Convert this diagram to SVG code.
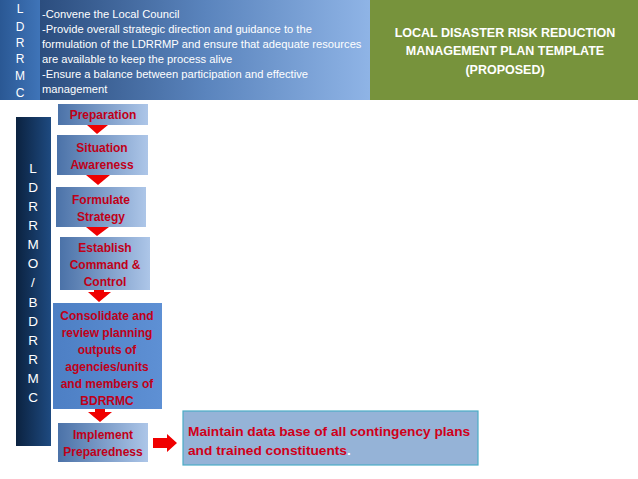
<svg xmlns="http://www.w3.org/2000/svg" width="638" height="479" viewBox="0 0 638 479">
<defs>
<linearGradient id="gHdrL" x1="0" y1="0" x2="1" y2="0"><stop offset="0" stop-color="#2a5894"/><stop offset="1" stop-color="#3f74b8"/></linearGradient>
<linearGradient id="gHdr" x1="0" y1="0" x2="1" y2="0"><stop offset="0" stop-color="#2b4d7e"/><stop offset="0.5" stop-color="#5a84bd"/><stop offset="1" stop-color="#8fb4e6"/></linearGradient>
<linearGradient id="gBar" x1="0" y1="0" x2="1" y2="0"><stop offset="0" stop-color="#0b2240"/><stop offset="1" stop-color="#1e4a80"/></linearGradient>
<linearGradient id="gBox" x1="0" y1="0" x2="1" y2="0"><stop offset="0" stop-color="#4b72a8"/><stop offset="1" stop-color="#adc6e8"/></linearGradient>
<linearGradient id="gCons" x1="0" y1="0" x2="1" y2="0"><stop offset="0" stop-color="#4d7fc4"/><stop offset="1" stop-color="#5e90d4"/></linearGradient>
</defs>
<style>
.hl{font-family:"Liberation Sans",Arial,sans-serif;font-size:12px;fill:#ffffff;text-anchor:middle}
.ht{font-family:"Liberation Sans",Arial,sans-serif;font-size:11.2px;fill:#ffffff}
.title{font-family:"Liberation Sans",Arial,sans-serif;font-size:12.5px;font-weight:bold;fill:#ffffff;text-anchor:middle}
.bl{font-family:"Liberation Sans",Arial,sans-serif;font-size:13.5px;fill:#ffffff;text-anchor:middle}
.bx{fill:url(#gBox)}
.bt{font-family:"Liberation Sans",Arial,sans-serif;font-size:12px;font-weight:bold;fill:#c00018;text-anchor:middle}
.mt{font-family:"Liberation Sans",Arial,sans-serif;font-size:13.7px;font-weight:bold;fill:#d0001a}
.arr{fill:#f00000}
</style>
<rect width="638" height="479" fill="#ffffff"/>
<g id="header-ldrrmc">
<rect x="0" y="0" width="40" height="100" fill="url(#gHdrL)"/>
<text class="hl" x="20" y="13">L</text>
<text class="hl" x="20" y="31">D</text>
<text class="hl" x="20" y="47">R</text>
<text class="hl" x="20" y="63">R</text>
<text class="hl" x="20" y="80">M</text>
<text class="hl" x="20" y="97">C</text>
</g>
<g id="header-text">
<rect x="40" y="0" width="330" height="100" fill="url(#gHdr)"/>
<text class="ht" x="42" y="18">-Convene the Local Council</text>
<text class="ht" x="42" y="33">-Provide overall strategic direction and guidance to the</text>
<text class="ht" x="42" y="48">formulation of the LDRRMP and ensure that adequate resources</text>
<text class="ht" x="42" y="63">are available to keep the process alive</text>
<text class="ht" x="42" y="78">-Ensure a balance between participation and effective</text>
<text class="ht" x="42" y="93">management</text>
</g>
<g id="title">
<rect x="370" y="0" width="268" height="100" fill="#77933c"/>
<text class="title" x="505" y="37">LOCAL DISASTER RISK REDUCTION</text>
<text class="title" x="505" y="55">MANAGEMENT PLAN TEMPLATE</text>
<text class="title" x="505" y="74">(PROPOSED)</text>
</g>
<g id="side-bar">
<rect x="16" y="117" width="35" height="329" fill="url(#gBar)"/>
<text class="bl" x="33" y="173">L</text>
<text class="bl" x="33" y="192">D</text>
<text class="bl" x="33" y="211">R</text>
<text class="bl" x="33" y="230">R</text>
<text class="bl" x="33" y="249">M</text>
<text class="bl" x="33" y="268">O</text>
<text class="bl" x="33" y="287">/</text>
<text class="bl" x="33" y="307">B</text>
<text class="bl" x="33" y="326">D</text>
<text class="bl" x="33" y="345">R</text>
<text class="bl" x="33" y="364">R</text>
<text class="bl" x="33" y="383">M</text>
<text class="bl" x="33" y="402">C</text>
</g>
<g id="preparation">
<rect class="bx" x="58" y="104" width="90" height="21"/>
<text class="bt" x="103" y="119">Preparation</text>
</g>
<g id="situation">
<rect class="bx" x="57" y="135" width="91" height="40"/>
<text class="bt" x="102" y="152">Situation</text>
<text class="bt" x="102" y="169">Awareness</text>
</g>
<g id="formulate">
<rect class="bx" x="56" y="187" width="90" height="40"/>
<text class="bt" x="101" y="204">Formulate</text>
<text class="bt" x="101" y="221">Strategy</text>
</g>
<g id="establish">
<rect class="bx" x="60" y="237" width="90" height="53"/>
<text class="bt" x="105" y="252">Establish</text>
<text class="bt" x="105" y="269">Command &amp;</text>
<text class="bt" x="105" y="286">Control</text>
</g>
<g id="consolidate">
<rect x="53" y="303" width="109" height="106" fill="url(#gCons)"/>
<text class="bt" x="107" y="320">Consolidate  and</text>
<text class="bt" x="107" y="337">review planning</text>
<text class="bt" x="107" y="354">outputs of</text>
<text class="bt" x="107" y="371">agencies/units</text>
<text class="bt" x="107" y="388">and members of</text>
<text class="bt" x="107" y="405">BDRRMC</text>
</g>
<g id="implement">
<rect class="bx" x="58" y="423" width="90" height="39"/>
<text class="bt" x="103" y="439">Implement</text>
<text class="bt" x="103" y="456">Preparedness</text>
</g>
<g id="maintain">
<rect x="183" y="411" width="295" height="54" fill="#95b3d7" stroke="#4bacc6" stroke-width="1.2"/>
<text class="mt" x="188" y="436">Maintain data base of all contingency plans</text>
<text class="mt" x="188" y="455">and trained constituents<tspan fill="#ffffff">.</tspan></text>
</g>
<g id="connectors">
<polygon class="arr" points="87,125 108,125 97,134"/>
<polygon class="arr" points="86,175 110,175 98,185"/>
<polygon class="arr" points="86,227 109,227 97,236"/>
<polygon class="arr" points="94,290 104,290 104,292 111,292 99,302 88,292 94,292"/>
<polygon class="arr" points="95,409 105,409 105,412 112,412 100,422 88,412 95,412"/>
<polygon class="arr" points="153,438 167,438 167,434 177,443 167,452 167,448 153,448"/>
</g>
</svg>
